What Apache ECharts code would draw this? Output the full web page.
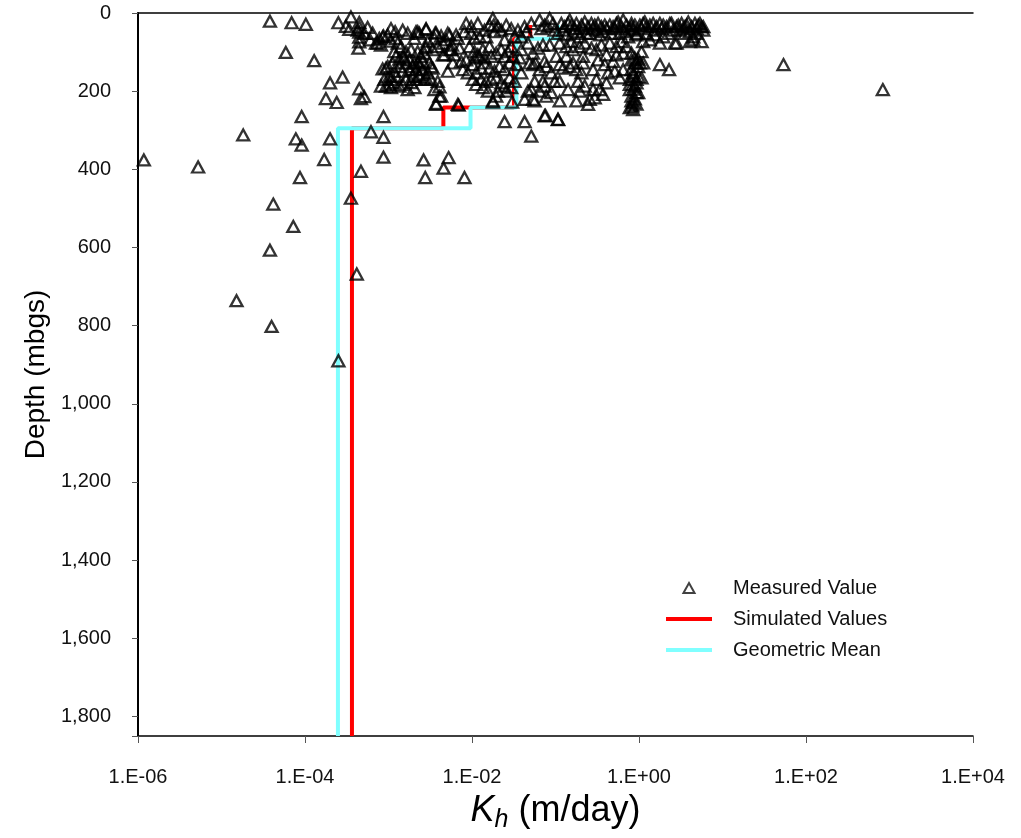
<!DOCTYPE html>
<html>
<head>
<meta charset="utf-8">
<script src="https://cdn.jsdelivr.net/npm/echarts@6/dist/echarts.min.js"></script>
<style>
html,body{margin:0;padding:0;background:#fff;}
#chart{width:1021px;height:838px;}
</style>
</head>
<body>
<div id="chart"></div>
<script>
// ---- Data (K in m/day stored as log10 values, depth in mbgs) ----
const xTickExponents = [-6, -4, -2, 0, 2, 4];
const yTicks = [0, 200, 400, 600, 800, 1000, 1200, 1400, 1600, 1800];

// Layer boundaries (depth, mbgs) for the step profiles
const layerDepths = [31, 66, 242, 295, 1850];
// Simulated Kh per layer (m/day)
const simulatedK = [0.0498, 0.0318, 0.00454, 0.000365];
// Geometric mean Kh per layer (m/day)
const geoMeanK = [0.107, 0.034, 0.0096, 0.000248];

// Measured values: [log10 Kh, depth]
const measuredPoints = [
  // scattered / deep points
  [-5.93,376],[-5.28,394],[-4.74,312],[-4.82,736],[-4.40,802],[-4.42,607],[-4.14,546],[-4.38,489],[-4.06,421],[-3.45,474],[-3.38,668],[-3.60,890],
  [-2.58,376],[-2.28,370],[-2.34,397],[-2.56,421],[-2.09,421],[-3.77,375],[-4.11,322],[-4.04,338],[-3.70,322],[-3.33,405],[-3.06,369],[-3.06,265],[-3.21,304],[-3.06,318],[-4.04,265],
  [-4.42,21],[-4.16,25],[-3.99,29],[-3.60,25],[-3.45,10],[-3.51,34],[-3.47,42],[-4.23,101],[-3.89,122],[-3.70,179],[-3.55,164],[-3.35,194],[-3.33,219],[-3.29,214],[-3.75,219],[-3.62,229],
  [1.73,132],[2.92,196],
  [-1.61,278],[-1.37,278],[-1.12,262],[-0.97,273],[-1.29,315],[-1.75,228],[-1.52,228],[-2.16,236],
  // cluster 1e-3.4 .. 1e-2.2
  [-3.35,24],[-3.35,36],[-3.35,49],[-3.35,62],[-3.35,74],[-3.37,44],[-3.36,90],[-3.22,69],[-3.13,77],[-3.09,82],[-3.06,59],[-2.92,48],[-2.91,65],[-2.89,77],[-2.93,99],[-2.91,111],[-2.67,48],
  [-3.07,143],[-3.01,137],[-2.95,128],[-2.87,118],[-2.81,115],[-2.75,120],[-2.69,128],[-2.75,145],[-2.83,149],[-2.91,162],[-2.97,170],[-3.03,187],[-3.09,187],[-2.97,191],[-2.87,187],[-2.79,170],[-2.71,162],[-2.77,196],[-2.69,191],[-2.67,170],
  [-3.07,61],[-3.15,77],[-2.63,52],[-2.55,42],[-2.44,51],[-2.37,59],[-2.27,56],[-2.24,82],[-2.27,94],[-2.33,107],[-2.56,89],[-2.83,111],[-2.61,111],[-2.59,124],[-2.51,128],[-2.49,137],[-3.03,141],[-2.63,158],[-2.55,166],[-2.49,170],[-2.41,175],[-2.39,189],[-2.39,213],[-2.43,231],[-2.29,149],[-2.99,162],[-2.93,149],[-2.67,145],[-2.59,145],
  [-3.19,52],[-3.11,65],[-3.01,56],[-2.97,72],[-2.85,86],[-2.79,99],[-2.73,94],[-2.65,99],[-2.57,103],[-2.47,94],[-2.41,86],[-2.35,77],[-2.31,69],[-2.45,65],[-2.53,72],[-2.69,65],[-2.77,52],[-2.83,44],[-2.97,40],[-3.25,37],[-3.29,52],
  [-2.87,137],[-2.79,128],[-2.71,137],[-2.63,133],[-2.93,178],[-2.83,183],[-2.73,178],[-2.99,183],[-3.05,170],
  // cluster 1e-2.6 .. 1e-1.3
  [-2.55,40],[-2.65,48],[-2.43,51],[-2.29,52],[-2.19,56],[-2.17,65],[-2.09,48],[-2.07,27],[-2.01,52],[-1.97,65],[-1.91,61],[-1.85,44],[-1.83,61],[-1.75,14],[-1.74,31],[-1.73,48],[-1.65,44],[-1.61,69],[-1.53,40],[-1.49,61],[-1.37,35],[-1.29,27],[-1.41,61],
  [-2.55,86],[-2.65,128],[-2.47,141],[-2.53,153],[-2.63,162],[-2.57,170],[-2.45,196],[-2.37,213],[-2.43,234],[-2.35,107],[-2.25,94],[-2.13,124],[-2.11,145],[-2.07,120],[-2.05,153],[-1.99,132],[-1.95,153],[-1.93,107],[-1.87,94],[-1.85,115],[-1.79,86],[-1.77,111],[-1.71,103],[-1.65,94],[-1.61,111],[-1.57,99],[-1.53,86],[-1.51,111],[-1.41,94],
  [-1.89,170],[-1.83,175],[-1.77,170],[-1.71,166],[-1.65,179],[-1.61,187],[-1.69,200],[-1.75,225],[-1.59,200],[-1.53,191],[-1.95,183],[-1.99,170],[-2.17,234],[-1.41,153],[-1.33,200],[-1.27,221],[-1.37,221],[-1.33,77],[-1.31,128],
  [-2.03,86],[-1.97,99],[-1.91,111],[-1.85,128],[-1.79,141],[-1.73,149],[-1.67,137],[-1.61,145],[-1.55,128],[-1.47,132],[-1.43,115],[-1.89,141],[-1.97,115],[-2.15,90],[-2.21,107],[-2.23,128],
  [-2.01,35],[-1.93,27],[-1.79,31],[-1.69,35],[-1.59,31],[-1.45,44],[-1.35,48],[-1.81,200],[-1.71,213],[-1.87,191],[-1.55,166],[-1.49,175],
  // cluster 1e-1.3 .. 1e0
  [-1.19,18],[-1.13,31],[-1.07,14],[-1.03,27],[-0.93,27],[-0.91,44],[-0.83,18],[-0.81,31],[-0.75,27],[-0.69,31],[-0.65,23],[-0.57,27],[-0.55,40],[-0.51,44],[-0.45,35],[-0.41,31],[-0.35,31],[-0.29,40],[-0.25,23],[-0.19,18],[-0.15,31],[-0.11,40],[-0.05,31],[-0.03,52],
  [-0.87,56],[-0.79,52],[-0.71,61],[-0.63,52],[-0.47,56],[-0.33,52],[-0.23,52],[-0.13,61],
  [-1.17,40],[-1.09,35],[-1.01,44],[-0.97,52],[-0.89,35],[-0.85,27],[-0.77,40],[-0.73,48],[-0.67,40],[-0.61,35],[-0.59,52],[-0.53,31],[-0.49,27],[-0.43,48],[-0.39,40],[-0.31,35],[-0.27,27],[-0.21,35],[-0.17,48],[-0.09,27],[-0.07,44],
  [-1.21,90],[-1.27,103],[-1.15,82],[-1.07,82],[-0.95,77],[-0.87,86],[-0.81,73],[-0.79,94],[-0.71,86],[-0.65,77],[-0.57,90],[-0.51,94],[-0.45,82],[-0.35,77],[-0.27,86],[-0.21,73],[-0.15,86],[-0.27,107],[-0.39,107],
  [-1.24,128],[-1.13,124],[-1.11,137],[-1.27,132],[-0.95,132],[-0.91,141],[-0.83,137],[-0.79,128],[-0.67,128],[-0.67,111],[-0.41,132],[-0.31,124],[-0.29,149],[-0.19,145],
  [-1.25,175],[-1.15,175],[-1.13,187],[-1.01,175],[-0.95,175],[-0.73,175],[-0.65,187],[-0.51,170],[-0.47,196],[-0.43,208],[-0.59,221],[-0.53,217],[-0.61,234],[-0.95,225],[-0.75,225],[-1.11,213],[-1.25,225],[-1.29,196],[-1.13,263],[-0.97,272],
  [-1.19,145],[-1.05,153],[-0.99,111],[-0.87,111],[-0.75,145],[-0.69,153],[-0.55,145],[-0.49,120],[-0.37,153],[-0.23,166],[-0.19,103],[-0.55,196],[-0.85,196],[-0.71,200],[-1.19,200],[-1.05,204],[-0.39,179],
  // column near 1e0
  [-0.11,196],[-0.09,213],[-0.07,229],[-0.11,242],[-0.03,204],[-0.05,187],[-0.01,162],[-0.01,137],[-0.09,103],[-0.05,128],[0.01,128],[-0.07,162],[0.03,166],[-0.03,179],[-0.09,225],[-0.08,238],[-0.01,204],[0.03,99],[-0.03,128],[0.05,128],[-0.07,153],[-0.11,183],
  [-0.05,115],[-0.09,145],[-0.03,170],[-0.07,195],[-0.05,220],[-0.03,233],[-0.07,247],[-0.01,118],[-0.11,170],[-0.09,120],
  // cluster 1e0 .. 1e0.8
  [0.25,132],[0.36,145],[0.43,77],[0.75,73],
  [0.05,27],[0.13,31],[0.25,27],[0.37,27],[0.47,31],[0.57,31],[0.67,27],[0.77,35],[0.61,48],[0.65,69],[0.69,40],[0.49,44],[-0.09,35],[0.01,31],[0.07,23],[0.21,35],[0.29,31],[0.45,35],[0.53,40],[0.75,35],[0.65,61],[0.61,73],[0.45,77],[0.25,77],[0.13,69],[0.05,73],[-0.03,56],[0.29,61],
  [0.03,40],[0.09,35],[0.17,27],[0.19,44],[0.27,40],[0.33,35],[0.39,27],[0.41,44],[0.51,27],[0.55,35],[0.59,23],[0.63,35],[0.71,31],[0.73,27],[0.35,52],[0.19,56],[0.09,52],[0.55,52],[0.69,52],[0.77,44]
];

// ---- Build step profiles from layer arrays ----
function stepProfile(kValues) {
  const pts = [];
  for (let i = 0; i < kValues.length; i++) {
    pts.push([kValues[i], layerDepths[i]]);
    pts.push([kValues[i], layerDepths[i + 1]]);
  }
  return pts;
}

const FONT = '"Liberation Sans", Arial, sans-serif';
const chart = echarts.init(document.getElementById('chart'), null, {renderer: 'canvas'});

function expLabel(v) {
  const e = Math.round(Math.log10(v));
  return '1.E' + (e < 0 ? '-' : '+') + String(Math.abs(e)).padStart(2, '0');
}

const LINE_ICON = 'path://M0,0 L46,0 L46,4 L0,4 Z';

chart.setOption({
  animation: false,
  backgroundColor: '#fff',
  grid: {left: 138, right: 48, top: 13, bottom: 96, containLabel: false},
  legend: {
    orient: 'vertical',
    left: 666,
    top: 578,
    itemWidth: 46,
    itemHeight: 10,
    itemGap: 11,
    padding: 0,
    textStyle: {fontFamily: FONT, fontSize: 20, color: '#111', padding: [0, 0, 0, 16]},
    data: [
      {name: 'Measured Value', icon: 'path://M5,0 L10,9 L0,9 Z', itemStyle: {color: 'rgba(0,0,0,0)', borderColor: '#111', borderWidth: 2}},
      {name: 'Simulated Values', icon: LINE_ICON, itemStyle: {color: '#ff0000', borderWidth: 0}},
      {name: 'Geometric Mean', icon: LINE_ICON, itemStyle: {color: '#80ffff', borderWidth: 0}}
    ]
  },
  xAxis: [{
    type: 'log',
    logBase: 100,
    min: Math.pow(10, xTickExponents[0]),
    max: Math.pow(10, xTickExponents[xTickExponents.length - 1]),
    name: '{k|K}{h|h}{n| (m/day)}',
    nameLocation: 'middle',
    nameGap: 53,
    nameTextStyle: {
      fontFamily: FONT, color: '#000',
      rich: {
        k: {fontFamily: FONT, fontSize: 36, fontStyle: 'italic', lineHeight: 44, color: '#000'},
        h: {fontFamily: FONT, fontSize: 25, fontStyle: 'italic', lineHeight: 16, verticalAlign: 'bottom', color: '#000'},
        n: {fontFamily: FONT, fontSize: 36, lineHeight: 44, color: '#000'}
      }
    },
    axisLine: {show: true, onZero: false, lineStyle: {color: '#000', width: 1.5}},
    axisTick: {show: true, length: 7, lineStyle: {color: '#555', width: 1}},
    minorTick: {show: false},
    splitLine: {show: false},
    axisLabel: {fontFamily: FONT, fontSize: 20, color: '#111', margin: 31, formatter: expLabel, showMinLabel: true, showMaxLabel: true}
  }, {
    type: 'value', position: 'top', min: 0, max: 1,
    axisLine: {show: true, onZero: false, lineStyle: {color: '#000', width: 1.5}},
    axisTick: {show: false}, axisLabel: {show: false}, splitLine: {show: false}
  }],
  yAxis: {
    type: 'value',
    inverse: true,
    min: 0,
    max: 1850,
    interval: 200,
    name: 'Depth (mbgs)',
    nameLocation: 'middle',
    nameGap: 86,
    nameRotate: 90,
    nameTextStyle: {fontFamily: FONT, fontSize: 28, color: '#000'},
    axisLine: {show: true, onZero: false, lineStyle: {color: '#000', width: 2}},
    axisTick: {show: true, length: 6, lineStyle: {color: '#555', width: 1}},
    splitLine: {show: false},
    axisLabel: {fontFamily: FONT, fontSize: 20, color: '#111', margin: 27,
      formatter: v => yTicks.indexOf(v) >= 0 ? v.toLocaleString('en-US') : ''}
  },
  series: [
    {
      name: 'Simulated Values',
      type: 'line',
      xAxisIndex: 0,
      data: stepProfile(simulatedK),
      symbol: 'none',
      z: 2,
      lineStyle: {color: '#ff0000', width: 4},
      itemStyle: {color: '#ff0000'}
    },
    {
      name: 'Geometric Mean',
      type: 'line',
      xAxisIndex: 0,
      data: stepProfile(geoMeanK),
      symbol: 'none',
      z: 3,
      lineStyle: {color: '#80ffff', width: 4},
      itemStyle: {color: '#80ffff'}
    },
    {
      name: 'Measured Value',
      type: 'scatter',
      xAxisIndex: 0,
      data: measuredPoints.map(p => [Math.pow(10, p[0]), p[1]]),
      symbol: 'triangle',
      symbolSize: [12, 11],
      z: 4,
      itemStyle: {color: 'rgba(0,0,0,0)', borderColor: '#000', borderWidth: 2.3}
    }
  ]
});
</script>
</body>
</html>
